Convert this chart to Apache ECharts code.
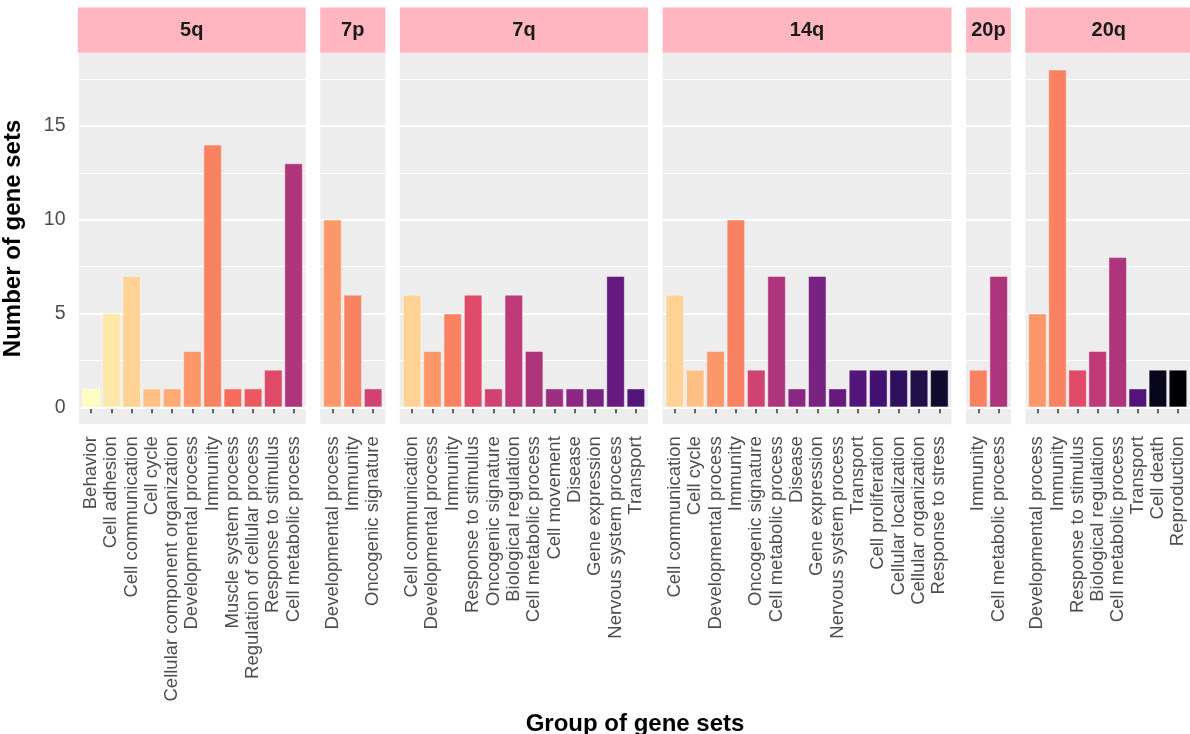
<!DOCTYPE html>
<html>
<head>
<meta charset="utf-8">
<title>Gene set groups by chromosome arm</title>
<script src="https://cdn.jsdelivr.net/npm/echarts@6/dist/echarts.min.js"></script>
<style>
  html, body { margin: 0; padding: 0; background: #ffffff; }
  #chart { width: 1190px; height: 734px; }
</style>
</head>
<body>
<div id="chart"></div>
<script>
// Chromosome arms (one facet each)
const arms = ['5q', '7p', '7q', '14q', '20p', '20q'];

// Gene set groups and counts per arm
const cats5q = ['Behavior', 'Cell adhesion', 'Cell communication', 'Cell cycle', 'Cellular component organization',
  'Developmental process', 'Immunity', 'Muscle system process', 'Regulation of cellular process',
  'Response to stimulus', 'Cell metabolic process'];
const vals5q = [1, 5, 7, 1, 1, 3, 14, 1, 1, 2, 13];

const cats7p = ['Developmental process', 'Immunity', 'Oncogenic signature'];
const vals7p = [10, 6, 1];

const cats7q = ['Cell communication', 'Developmental process', 'Immunity', 'Response to stimulus',
  'Oncogenic signature', 'Biological regulation', 'Cell metabolic process', 'Cell movement', 'Disease',
  'Gene expression', 'Nervous system process', 'Transport'];
const vals7q = [6, 3, 5, 6, 1, 6, 3, 1, 1, 1, 7, 1];

const cats14q = ['Cell communication', 'Cell cycle', 'Developmental process', 'Immunity', 'Oncogenic signature',
  'Cell metabolic process', 'Disease', 'Gene expression', 'Nervous system process', 'Transport',
  'Cell proliferation', 'Cellular localization', 'Cellular organization', 'Response to stress'];
const vals14q = [6, 2, 3, 10, 2, 7, 1, 7, 1, 2, 2, 2, 2, 2];

const cats20p = ['Immunity', 'Cell metabolic process'];
const vals20p = [2, 7];

const cats20q = ['Developmental process', 'Immunity', 'Response to stimulus', 'Biological regulation',
  'Cell metabolic process', 'Transport', 'Cell death', 'Reproduction'];
const vals20q = [5, 18, 2, 3, 8, 1, 2, 2];

// Fill order of all groups (reversed magma palette, light to dark)
const groupOrder = ['Behavior', 'Cell adhesion', 'Cell communication', 'Cell cycle',
  'Cellular component organization', 'Developmental process', 'Immunity', 'Muscle system process',
  'Regulation of cellular process', 'Response to stimulus', 'Oncogenic signature', 'Biological regulation',
  'Cell metabolic process', 'Cell movement', 'Disease', 'Gene expression', 'Nervous system process',
  'Transport', 'Cell proliferation', 'Cellular localization', 'Cellular organization', 'Response to stress',
  'Cell death', 'Reproduction'];
const magmaColors = ['#FCFDBF', '#FDE7A9', '#FED395', '#FEC084', '#FEAB73', '#FC976A', '#F98262', '#F56E5C',
  '#EA5962', '#DF4A68', '#D0426F', '#BF3A77', '#AE347B', '#9C2E7F', '#8A2881', '#782281', '#661A80',
  '#54157B', '#421172', '#300F5D', '#200F48', '#110C2F', '#08061A', '#000004'];

// Y axis ticks and grid lines
const yMajor = [0, 5, 10, 15];
const yMinor = [2.5, 7.5, 12.5, 17.5];

const panelCats = [cats5q, cats7p, cats7q, cats14q, cats20p, cats20q];
const panelVals = [vals5q, vals7p, vals7q, vals14q, vals20p, vals20q];

// Layout: facet widths grow with the number of groups
const UNIT = 20.35, GAP = 14.5, X0 = 77.8, TOP = 52.7, H = 371.5;
const STRIP_TOP = 7.5, STRIP_H = 45.2;
const FONT = "'Liberation Sans', Arial, sans-serif";

const grids = [], xAxes = [], yAxes = [], series = [], graphics = [];
let x = X0;
arms.forEach((arm, i) => {
  const cats = panelCats[i], vals = panelVals[i];
  const n = cats.length;
  const w = (n + 0.2) * UNIT;
  const idx = cats.map((_, j) => j);

  grids.push({ left: x, top: TOP, width: w, height: H, show: true,
    backgroundColor: '#EDEDED', borderWidth: 0, containLabel: false });

  xAxes.push({
    type: 'value', gridIndex: i, min: -0.6, max: n - 0.4,
    axisLine: { show: false }, splitLine: { show: false },
    axisTick: { show: true, customValues: idx, length: 6, lineStyle: { color: '#333333', width: 1.5 } },
    axisLabel: {
      customValues: idx, rotate: 90, margin: 12, fontSize: 18.5, fontFamily: FONT, color: '#4D4D4D',
      hideOverlap: false, formatter: v => cats[Math.round(v)]
    }
  });

  const first = i === 0;
  yAxes.push({
    type: 'value', gridIndex: i, min: -0.9, max: 18.9,
    axisLine: { show: false }, splitLine: { show: false },
    axisTick: { show: first, customValues: yMajor, length: 7, lineStyle: { color: '#333333', width: 1.5 } },
    axisLabel: { show: first, customValues: yMajor, margin: 13.5, fontSize: 19.5, fontFamily: FONT, color: '#4D4D4D' },
    name: first ? 'Number of gene sets' : '',
    nameLocation: 'middle', nameGap: 54,
    nameTextStyle: { fontSize: 24, fontWeight: 'bold', fontFamily: FONT, color: '#000000' }
  });

  series.push({
    type: 'bar', xAxisIndex: i, yAxisIndex: i, z: 2,
    barWidth: UNIT * 0.9,
    data: vals.map((v, j) => ({
      value: [j, v],
      itemStyle: { color: magmaColors[groupOrder.indexOf(cats[j])] }
    })),
    itemStyle: { borderColor: 'rgba(255,255,255,0.55)', borderWidth: 0.8 },
    markLine: {
      silent: true, symbol: 'none', z: 1, animation: false,
      label: { show: false },
      data: yMajor.map(v => ({ yAxis: v, lineStyle: { color: '#ffffff', width: 2, type: 'solid' } }))
        .concat(yMinor.map(v => ({ yAxis: v, lineStyle: { color: '#ffffff', width: 1, type: 'solid' } })))
    }
  });

  // facet strip
  graphics.push({
    type: 'rect', silent: true, z: 10,
    shape: { x: x, y: STRIP_TOP, width: w, height: STRIP_H },
    style: { fill: '#FFB6C1' }
  });
  graphics.push({
    type: 'text', silent: true, z: 11,
    style: {
      text: arm, x: x + w / 2, y: STRIP_TOP + STRIP_H / 2,
      align: 'center', verticalAlign: 'middle', textAlign: 'center', textVerticalAlign: 'middle',
      font: 'bold 20px ' + FONT, fill: '#1A1A1A'
    }
  });

  x += w + GAP;
});

// x axis title
graphics.push({
  type: 'text', silent: true,
  style: {
    text: 'Group of gene sets', x: 635, y: 724,
    align: 'center', verticalAlign: 'middle', textAlign: 'center', textVerticalAlign: 'middle',
    font: 'bold 24px ' + FONT, fill: '#000000'
  }
});

const chart = echarts.init(document.getElementById('chart'), null, { renderer: 'canvas' });
chart.setOption({
  animation: false,
  backgroundColor: '#ffffff',
  grid: grids,
  xAxis: xAxes,
  yAxis: yAxes,
  series: series,
  graphic: graphics
});
</script>
</body>
</html>
